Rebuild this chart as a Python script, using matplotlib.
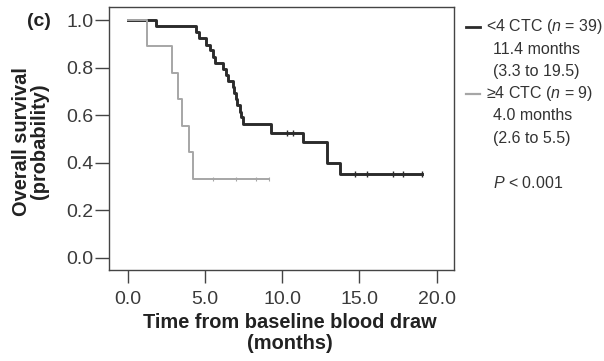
import numpy as np
import matplotlib
matplotlib.use("Agg")
import matplotlib.pyplot as plt
from matplotlib.lines import Line2D

plt.rcParams['font.family'] = ['Liberation Sans', 'DejaVu Sans']
plt.rcParams['mathtext.fontset'] = 'custom'
plt.rcParams['mathtext.rm'] = 'Liberation Sans'
plt.rcParams['mathtext.it'] = 'Liberation Sans:italic'

# Kaplan-Meier steps
low_t = [0, 1.8, 4.42, 4.62, 5.1, 5.35, 5.5, 5.63, 6.17, 6.35, 6.5, 6.8, 6.9, 7.0,
         7.1, 7.25, 7.35, 7.46, 9.29, 11.36, 12.93, 13.73, 19.06]
low_s = [1.0, 0.974, 0.949, 0.923, 0.897, 0.872, 0.846, 0.821, 0.795, 0.769, 0.744,
         0.718, 0.692, 0.667, 0.641, 0.615, 0.590, 0.564, 0.526, 0.485, 0.397, 0.352, 0.352]
low_cens = [10.3, 10.7, 14.7, 15.5, 17.2, 17.8, 19.06]

high_t = [0, 1.23, 2.89, 3.28, 3.5, 3.99, 4.25, 9.17]
high_s = [1.0, 0.889, 0.778, 0.667, 0.556, 0.444, 0.333, 0.333]
high_cens = [5.5, 7.0, 8.3, 9.17]

xticks = [0, 5, 10, 15, 20]
yticks = [0.0, 0.2, 0.4, 0.6, 0.8, 1.0]

legend_lines = [("<4 CTC ($n$ = 39)", "11.4 months", "(3.3 to 19.5)"),
                ("\u22654 CTC ($n$ = 9)", "4.0 months", "(2.6 to 5.5)")]
pval = "$P$ < 0.001"

BLACK = '#2b2b2b'
GRAY = '#a6a6a6'
TXT = '#333333'


def step_at(ts, ss, x):
    i = np.searchsorted(ts, x, side='right') - 1
    return np.array(ss)[i]


fig = plt.figure(figsize=(6.04, 3.61), dpi=100)
ax = fig.add_axes([109 / 604, 1 - 270 / 361, 345 / 604, 263 / 361])

ax.plot(low_t, low_s, drawstyle='steps-post', color=BLACK, lw=2.1, zorder=2)
ax.plot(high_t, high_s, drawstyle='steps-post', color=GRAY, lw=1.4, zorder=3)
ax.plot(low_cens, step_at(low_t, low_s, low_cens), ls='none', marker='|',
        ms=4, mew=1.0, color=BLACK, zorder=2)
ax.plot(high_cens, step_at(high_t, high_s, high_cens), ls='none', marker='|',
        ms=3, mew=0.8, color=GRAY, zorder=3)

ax.set_xlim(-1.21, 21.12)
ax.set_ylim(-0.052, 1.055)
ax.set_xticks(xticks)
ax.set_xticklabels([f"{v:.1f}" for v in xticks])
ax.set_yticks(yticks)
ax.set_yticklabels([f"{v:.1f}" for v in yticks])
ax.tick_params(direction='out', width=1.0, color='#444444',
               labelsize=14, labelcolor='#3a3a3a')
ax.tick_params(axis='x', length=9, pad=6)
ax.tick_params(axis='y', length=10, pad=1)
for sp in ax.spines.values():
    sp.set_color('#444444')
    sp.set_linewidth(1.0)

ax.set_xlabel("Time from baseline blood draw\n(months)", fontsize=14.4,
              fontweight='bold', color='#222222', linespacing=1.1)
ax.xaxis.set_label_coords(0.525, -0.165)
ax.set_ylabel("Overall survival\n(probability)", fontsize=14.4,
              fontweight='bold', color='#222222', linespacing=0.9)
ax.yaxis.set_label_coords(-0.175, 0.49)

fig.text(38.5 / 604, 1 - 22 / 361, "(c)", fontsize=14, fontweight='bold',
         color='#222222', ha='center', va='center')

# legend drawn by hand at the right
line_h = 22.3
for k, (head, med, ci) in enumerate(legend_lines):
    y0 = 26.7 + k * 3 * line_h
    col = BLACK if k == 0 else GRAY
    fig.add_artist(Line2D([466 / 604, 480 / 604], [1 - y0 / 361] * 2,
                          color=col, lw=2.0 if k == 0 else 1.6))
    fig.text(486.5 / 604, 1 - y0 / 361, head, fontsize=11.5, color=TXT,
             ha='left', va='center')
    fig.text(493 / 604, 1 - (y0 + line_h) / 361, med, fontsize=11.5,
             color=TXT, ha='left', va='center')
    fig.text(493 / 604, 1 - (y0 + 2 * line_h) / 361, ci, fontsize=11.5,
             color=TXT, ha='left', va='center')
fig.text(493 / 604, 1 - 183.3 / 361, pval, fontsize=11.5, color=TXT,
         ha='left', va='center')

fig.savefig("out.png", dpi=100)
